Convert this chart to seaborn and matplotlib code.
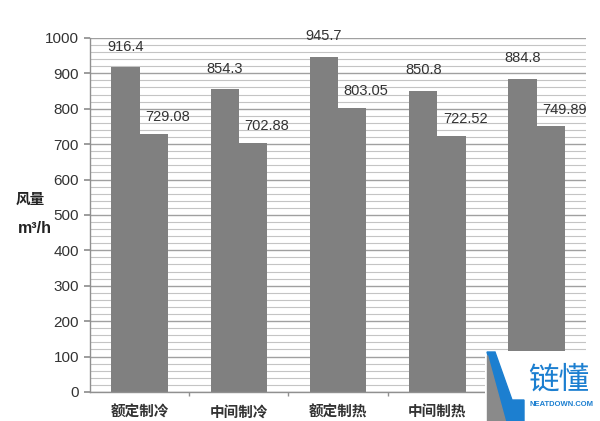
import pandas as pd
import matplotlib.pyplot as plt
import seaborn as sns
from matplotlib.ticker import MultipleLocator
from matplotlib.patches import Rectangle, Polygon

sns.set_theme(style="white")
plt.rcParams["font.family"] = ["Liberation Sans", "Noto Sans CJK SC", "DejaVu Sans"]
plt.rcParams["axes.unicode_minus"] = False

# 数据
categories = ["额定制冷", "中间制冷", "额定制热", "中间制热", "低温制热"]
series_names = ["系列1", "系列2"]
series1 = [916.4, 854.3, 945.7, 850.8, 884.8]
series2 = [729.08, 702.88, 803.05, 722.52, 749.89]
label1 = ["916.4", "854.3", "945.7", "850.8", "884.8"]
label2 = ["729.08", "702.88", "803.05", "722.52", "749.89"]

df = pd.DataFrame({
    "工况": categories * 2,
    "系列": [series_names[0]] * 5 + [series_names[1]] * 5,
    "风量": series1 + series2,
})

fig = plt.figure(figsize=(6, 4.21), dpi=100)
ax = fig.add_axes([0.15, 0.069, 0.827, 0.841])

sns.barplot(data=df, x="工况", y="风量", hue="系列", order=categories,
            hue_order=series_names, palette=["#808080", "#808080"],
            width=0.57, gap=0, legend=False, ax=ax, saturation=1,
            edgecolor="none", linewidth=0)

ax.set_ylim(0, 1000)
ax.set_xlim(-0.5, len(categories) - 0.5)
ax.yaxis.set_major_locator(MultipleLocator(100))
ax.yaxis.set_minor_locator(MultipleLocator(20))
ax.grid(axis="y", which="major", color="#a0a0a0", linewidth=1.0)
ax.grid(axis="y", which="minor", color="#c4c4c4", linewidth=0.8)
ax.set_axisbelow(True)

for s in ["top", "right"]:
    ax.spines[s].set_visible(False)
for s in ["left", "bottom"]:
    ax.spines[s].set_color("#909090")
    ax.spines[s].set_linewidth(1.0)

ax.tick_params(axis="y", which="major", left=True, length=4, color="#909090",
               labelsize=11, labelcolor="#333333", pad=4)
ax.tick_params(axis="y", which="minor", left=False)
ax.set_xticks(range(len(categories)))
ax.set_xticklabels(categories)
ax.tick_params(axis="x", bottom=False, labelsize=10.5, labelcolor="#333333", pad=4)
for lab in ax.get_xticklabels():
    lab.set_fontweight("bold")
# 最后一个类别标签被水印遮住
ax.get_xticklabels()[-1].set_visible(False)
# 分隔刻度
ax.set_xticks([i + 0.5 for i in range(len(categories) - 1)], minor=True)
ax.tick_params(axis="x", which="minor", bottom=True, length=3, color="#909090")

ax.set_xlabel("")
ax.set_ylabel("")

# 数据标签
bw = 0.285
for i in range(len(categories)):
    ax.annotate(label1[i], (i - bw / 2, series1[i]), xytext=(0, 15),
                textcoords="offset points", ha="center", va="center",
                fontsize=10.5, color="#333333")
    ax.annotate(label2[i], (i + bw / 2, series2[i]), xytext=(10, 12),
                textcoords="offset points", ha="center", va="center",
                fontsize=10.5, color="#333333")

fig.text(0.05, 0.525, "风量", fontsize=10.5, fontweight="bold", ha="center",
         va="center", color="#222222")
fig.text(0.058, 0.458, "m³/h", fontsize=11.5, fontweight="bold", ha="center",
         va="center", color="#222222")

# 水印
wm = fig.add_axes([485 / 600, 0, 115 / 600, 70 / 421])
wm.set_xlim(0, 115)
wm.set_ylim(0, 70)
wm.axis("off")
wm.add_patch(Rectangle((0, 0), 115, 70, color="white"))
wm.add_patch(Polygon([[2, 69], [10, 69], [27, 21], [39, 21], [39, 0], [20, 0]],
                     closed=True, color="#1c7fd0"))
wm.add_patch(Polygon([[2, 66], [2, 0], [20, 0]], closed=True, color="#8a8a8a"))
wm.text(74, 41, "链懂", fontsize=22, color="#1c7fd0", ha="center", va="center",
        family=["Noto Sans CJK SC"])
wm.text(76, 16, "NEATDOWN.COM", fontsize=5.5, color="#1c7fd0",
        ha="center", va="center", fontweight="bold")

fig.savefig("out.png", dpi=100)
